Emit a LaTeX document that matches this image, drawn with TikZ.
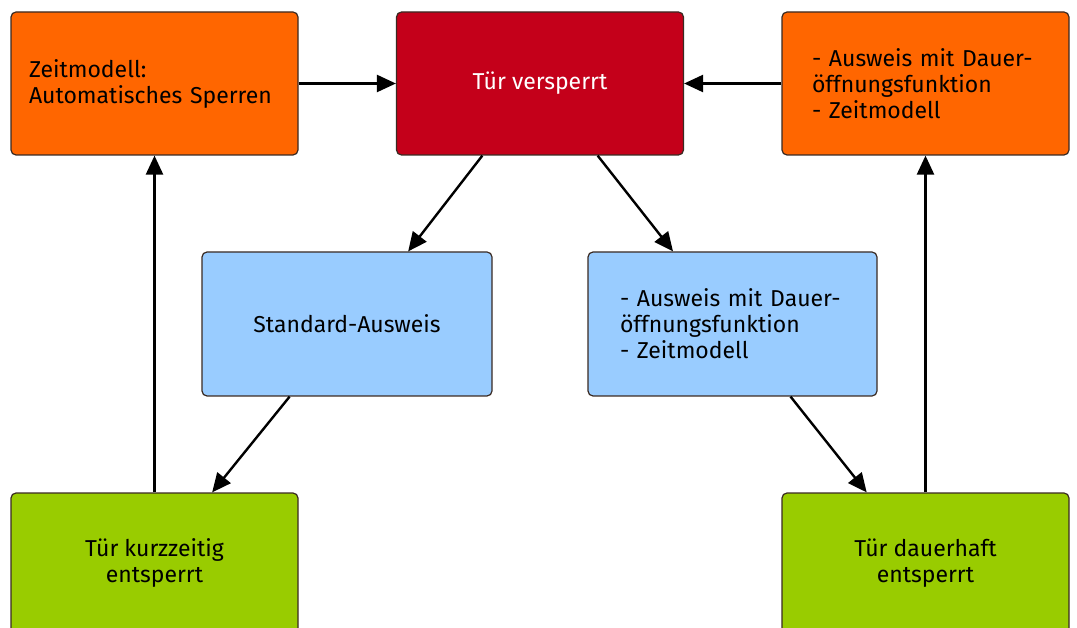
\documentclass[tikz,border=0pt]{standalone}
\usepackage{fontspec}
\setmainfont{Fira Sans}
\usetikzlibrary{arrows.meta,calc}
\definecolor{orangebox}{HTML}{FF6600}
\definecolor{redbox}{HTML}{C4001A}
\definecolor{bluebox}{HTML}{99CCFF}
\definecolor{greenbox}{HTML}{99CC00}
\definecolor{boxline}{HTML}{3A2A22}
\begin{document}
\begin{tikzpicture}[x=1pt,y=-1pt,
  box/.style={draw=boxline, line width=1.2pt, rounded corners=5pt,
    minimum width=287pt, minimum height=143pt, inner sep=0pt,
    font=\fontsize{23pt}{26pt}\selectfont},
  orange/.style={box, fill=orangebox},
  red/.style={box, fill=redbox, text=white},
  blue/.style={box, fill=bluebox},
  green/.style={box, fill=greenbox, minimum height=140pt, align=center},
  arr/.style={line width=2.4pt, -{Triangle[length=19pt,width=17pt]}}]
\useasboundingbox (0,0) rectangle (1077,628);
\clip (0,0) rectangle (1077,628);

% top row
\node[orange, text width=251pt, align=left] (zeit) at (154.5,83.5)
  {Zeitmodell:\\Automatisches Sperren};
\node[red] (versperrt) at (540,83.5) {Tür versperrt};
\node[orange, text width=227pt, align=left] (dauerTop) at (925.5,83.5)
  {- Ausweis mit Dauer-\\öffnungsfunktion\\- Zeitmodell};

% middle row
\node[blue, minimum width=290pt, minimum height=144pt] (standard) at (347,324)
  {Standard-Ausweis};
\node[blue, minimum width=289pt, minimum height=144pt, text width=225pt, align=left] (dauerMid) at (732.5,324)
  {- Ausweis mit Dauer-\\öffnungsfunktion\\- Zeitmodell};

% bottom row
\node[green] (kurz) at (154.5,563) {Tür kurzzeitig\\entsperrt};
\node[green] (dauerhaft) at (925.5,563) {Tür dauerhaft\\entsperrt};

% connectors
\draw[arr] (zeit) -- (versperrt);
\draw[arr] (dauerTop) -- (versperrt);
\draw[arr] ($(versperrt.south west)!0.3!(versperrt.south east)$) -- ($(standard.north west)!0.71!(standard.north east)$);
\draw[arr] ($(versperrt.south west)!0.7!(versperrt.south east)$) -- ($(dauerMid.north west)!0.295!(dauerMid.north east)$);
\draw[arr] ($(standard.south west)!0.303!(standard.south east)$) -- ($(kurz.north west)!0.7!(kurz.north east)$);
\draw[arr] ($(dauerMid.south west)!0.70!(dauerMid.south east)$) -- ($(dauerhaft.north west)!0.296!(dauerhaft.north east)$);
\draw[arr] (kurz) -- (zeit);
\draw[arr] (dauerhaft) -- (dauerTop);
\end{tikzpicture}
\end{document}
